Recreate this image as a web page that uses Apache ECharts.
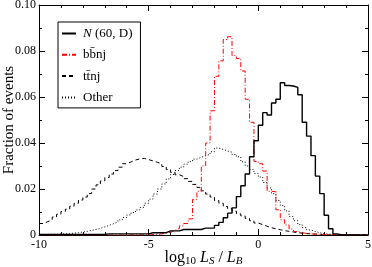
<!DOCTYPE html>
<html>
<head>
<meta charset="utf-8">
<script src="https://cdn.jsdelivr.net/npm/echarts@6/dist/echarts.min.js"></script>
<style>
html,body{margin:0;padding:0;background:#fff;}
#c{width:372px;height:267px;}
</style>
</head>
<body>
<div id="c"></div>
<script>
// Histogram bins: left edges from -10 to 4.8, width 0.2
const binStart = -10;
const binWidth = 0.2;
const xTickLabels = ['-10', '-5', '0', '5'];
const yTickLabels = ['0', '0.02', '0.04', '0.06', '0.08', '0.10'];
const seriesNames = ['N (60, D)', 'bb\u0304nj', 'tt\u0304nj', 'Other'];

const nSignal = [
  0.0002,0.0002,0.0002,0.0002,0.0002,0.0002,0.0002,0.0002,0.0002,0.0002,
  0.0002,0.0002,0.0002,0.0002,0.0002,
  0.0005,0.0005,0.0005,0.0005,0.0005,0.0005,0.0005,0.0005,0.0005,0.0005,
  0.001,0.001,0.001,0.001,
  0.0018,0.0018,0.0018,
  0.0024,0.0024,0.0024,0.0024,0.0024,
  0.0030,0.0030,0.0030,
  0.0042,0.0055,0.0075,0.0095,0.0118,0.0167,0.0214,0.0265,0.034,0.041,
  0.0477,0.0532,0.0522,0.0574,0.059,0.0662,0.065,0.0648,0.0642,0.061,
  0.049,0.043,0.0345,0.0256,0.018,0.0086,0.0027,0.0005,
  0,0,0,0,0,0,0
];

const bbnj = [
  0,0,0,0,0,0,0,0,0,0,0,0,0,0,0,0,0,0,0,0,0,0,0,0,0,
  0.0002,0.0003,0.0005,0.0008,0.0012,0.0020,0.0028,0.0040,0.0050,0.0070,
  0.0155,0.0190,0.0300,0.0400,0.0540,0.0690,0.0757,0.0850,0.0862,0.0780,
  0.0767,0.0713,0.0590,0.0490,0.0320,0.0310,0.0278,0.0190,0.0188,0.0110,
  0.0066,0.0044,0.0026,0.0015,0.0010,0.0007,0.0005,0.0004,0.0003,0.0002,
  0.0002,0.0001,0.0001,0.0001,
  0.0001,0.0001,0.0001,0.0001,0.0001,0.0001
];

const ttnj = [
  0.0050,0.0058,0.0066,0.0078,0.0090,0.0102,0.0112,0.0125,0.0138,0.0152,
  0.0165,0.0180,0.0200,0.0218,0.0235,0.0250,0.0265,0.0280,0.0295,0.0310,
  0.0318,0.0326,0.0331,0.0333,0.0328,0.0322,0.0316,0.0310,0.0298,0.0285,
  0.0272,0.0262,0.0254,0.0245,0.0233,0.0220,0.0207,0.0192,0.0178,0.0165,
  0.0150,0.0138,0.0124,0.0114,0.0104,0.0092,0.0083,0.0072,0.0062,0.0052,
  0.0045,0.0038,0.0032,0.0027,0.0023,0.0019,0.0016,0.0013,0.0010,0.0008,
  0.0006,0.0005,0.0004,0.0003,0.0002,0.0001,
  0,0,0,0,0,0,0,0,0
];

const other = [
  0.0002,0.0002,0.0003,0.0003,0.0004,0.0005,0.0006,0.0008,0.0010,0.0013,
  0.0016,0.0020,0.0024,0.0029,0.0035,0.0042,0.0049,0.0057,0.0066,0.0076,
  0.0087,0.0098,0.0109,0.0120,0.0138,0.0156,0.0178,0.0200,0.0222,0.0244,
  0.0263,0.0280,0.0295,0.0308,0.0320,0.0330,0.0338,0.0345,0.0350,0.0362,
  0.0378,0.0372,0.0365,0.0360,0.0350,0.0340,0.0318,0.0300,0.0285,0.0268,
  0.0252,0.0228,0.0205,0.0180,0.0150,0.0128,0.0105,0.0080,0.0062,0.0045,
  0.0032,0.0022,0.0015,0.0010,0.0006,0.0004,0.0002,0.0001,
  0,0,0,0,0,0,0
];

function toSteps(vals) {
  const pts = [];
  for (let i = 0; i < vals.length; i++) {
    pts.push([+(binStart + i * binWidth).toFixed(2), vals[i]]);
  }
  pts.push([+(binStart + vals.length * binWidth).toFixed(2), vals[vals.length - 1]]);
  return pts;
}

const FONT = 'Liberation Serif';
const chart = echarts.init(document.getElementById('c'), null, {renderer: 'canvas'});

const xMap = {'-10': xTickLabels[0], '-5': xTickLabels[1], '0': xTickLabels[2], '5': xTickLabels[3]};

const axisCommon = {
  axisLine: {show: true, onZero: false, lineStyle: {color: '#000', width: 1}},
  axisTick: {show: true, inside: true, length: 6, lineStyle: {color: '#000', width: 1}},
  minorTick: {show: true, splitNumber: 5, length: 3, lineStyle: {color: '#000', width: 1}},
  splitLine: {show: false}
};

const option = {
  animation: false,
  backgroundColor: '#fff',
  textStyle: {fontFamily: FONT},
  grid: {left: 39, right: 4, top: 5, bottom: 32, containLabel: false, outerBoundsMode: 'none'},
  legend: {
    orient: 'vertical',
    left: 58, top: 22,
    padding: [5, 8, 4, 3],
    itemWidth: 14, itemHeight: 10, itemGap: 8.3,
    borderColor: '#000', borderWidth: 1,
    backgroundColor: '#fff',
    data: seriesNames,
    itemStyle: {opacity: 0},
    textStyle: {
      fontFamily: FONT, fontSize: 13, color: '#000', padding: [0, 0, 0, 2],
      rich: {
        it: {fontFamily: FONT, fontSize: 13, fontStyle: 'italic', color: '#000'},
        n: {fontFamily: FONT, fontSize: 13, color: '#000'}
      }
    },
    formatter: function (name) {
      if (name === seriesNames[0]) return '{it|N} {n|(60, D)}';
      return name;
    }
  },
  xAxis: [
    Object.assign({}, axisCommon, {
      type: 'value', min: -10, max: 5, interval: 5, position: 'bottom',
      axisLabel: {
        fontFamily: FONT, fontSize: 12, color: '#000', margin: 4,
        formatter: function (v) { return xMap[String(v)] || String(v); }
      },
      name: '{t|log}{s|10}{t| }{i|L}{si|S}{t| / }{i|L}{si|B}',
      nameLocation: 'middle', nameGap: 14, nameMoveOverlap: false,
      nameTextStyle: {
        verticalAlign: 'top', lineHeight: 18,
        rich: {
          t: {fontFamily: FONT, fontSize: 16, color: '#000', lineHeight: 18},
          s: {fontFamily: FONT, fontSize: 11, color: '#000', lineHeight: 18, verticalAlign: 'bottom'},
          i: {fontFamily: FONT, fontSize: 16, fontStyle: 'italic', color: '#000', lineHeight: 18},
          si: {fontFamily: FONT, fontSize: 11, fontStyle: 'italic', color: '#000', lineHeight: 18, verticalAlign: 'bottom'}
        }
      }
    }),
    Object.assign({}, axisCommon, {
      type: 'value', min: -10, max: 5, interval: 5, position: 'top',
      axisLabel: {show: false}
    })
  ],
  yAxis: [
    Object.assign({}, axisCommon, {
      type: 'value', min: 0, max: 0.1, interval: 0.02, position: 'left',
      minorTick: {show: true, splitNumber: 2, length: 3, lineStyle: {color: '#000', width: 1}},
      axisLabel: {
        fontFamily: FONT, fontSize: 12, color: '#000', margin: 3,
        formatter: function (v) { return yTickLabels[Math.round(v / 0.02)]; }
      },
      name: 'Fraction of events',
      nameLocation: 'middle', nameGap: 22, nameRotate: 90, nameMoveOverlap: false,
      nameTextStyle: {fontFamily: FONT, fontSize: 15, color: '#000'}
    }),
    Object.assign({}, axisCommon, {
      type: 'value', min: 0, max: 0.1, interval: 0.02, position: 'right',
      minorTick: {show: true, splitNumber: 2, length: 3, lineStyle: {color: '#000', width: 1}},
      axisLabel: {show: false}
    })
  ],
  series: [
    {
      name: seriesNames[3], type: 'line', step: 'end', symbol: 'none', data: toSteps(other),
      lineStyle: {color: '#000', width: 1, type: [1, 2]}, itemStyle: {color: '#000'}
    },
    {
      name: seriesNames[2], type: 'line', step: 'end', symbol: 'none', data: toSteps(ttnj),
      lineStyle: {color: '#000', width: 1, type: [4, 3]}, itemStyle: {color: '#000'}
    },
    {
      name: seriesNames[1], type: 'line', step: 'end', symbol: 'none', data: toSteps(bbnj),
      lineStyle: {color: '#ff0000', width: 1, type: [5, 2, 1, 2]}, itemStyle: {color: '#ff0000'}
    },
    {
      name: seriesNames[0], type: 'line', step: 'end', symbol: 'none', data: toSteps(nSignal),
      lineStyle: {color: '#000', width: 1.4}, itemStyle: {color: '#555'}
    }
  ]
};
chart.setOption(option);
</script>
</body>
</html>
